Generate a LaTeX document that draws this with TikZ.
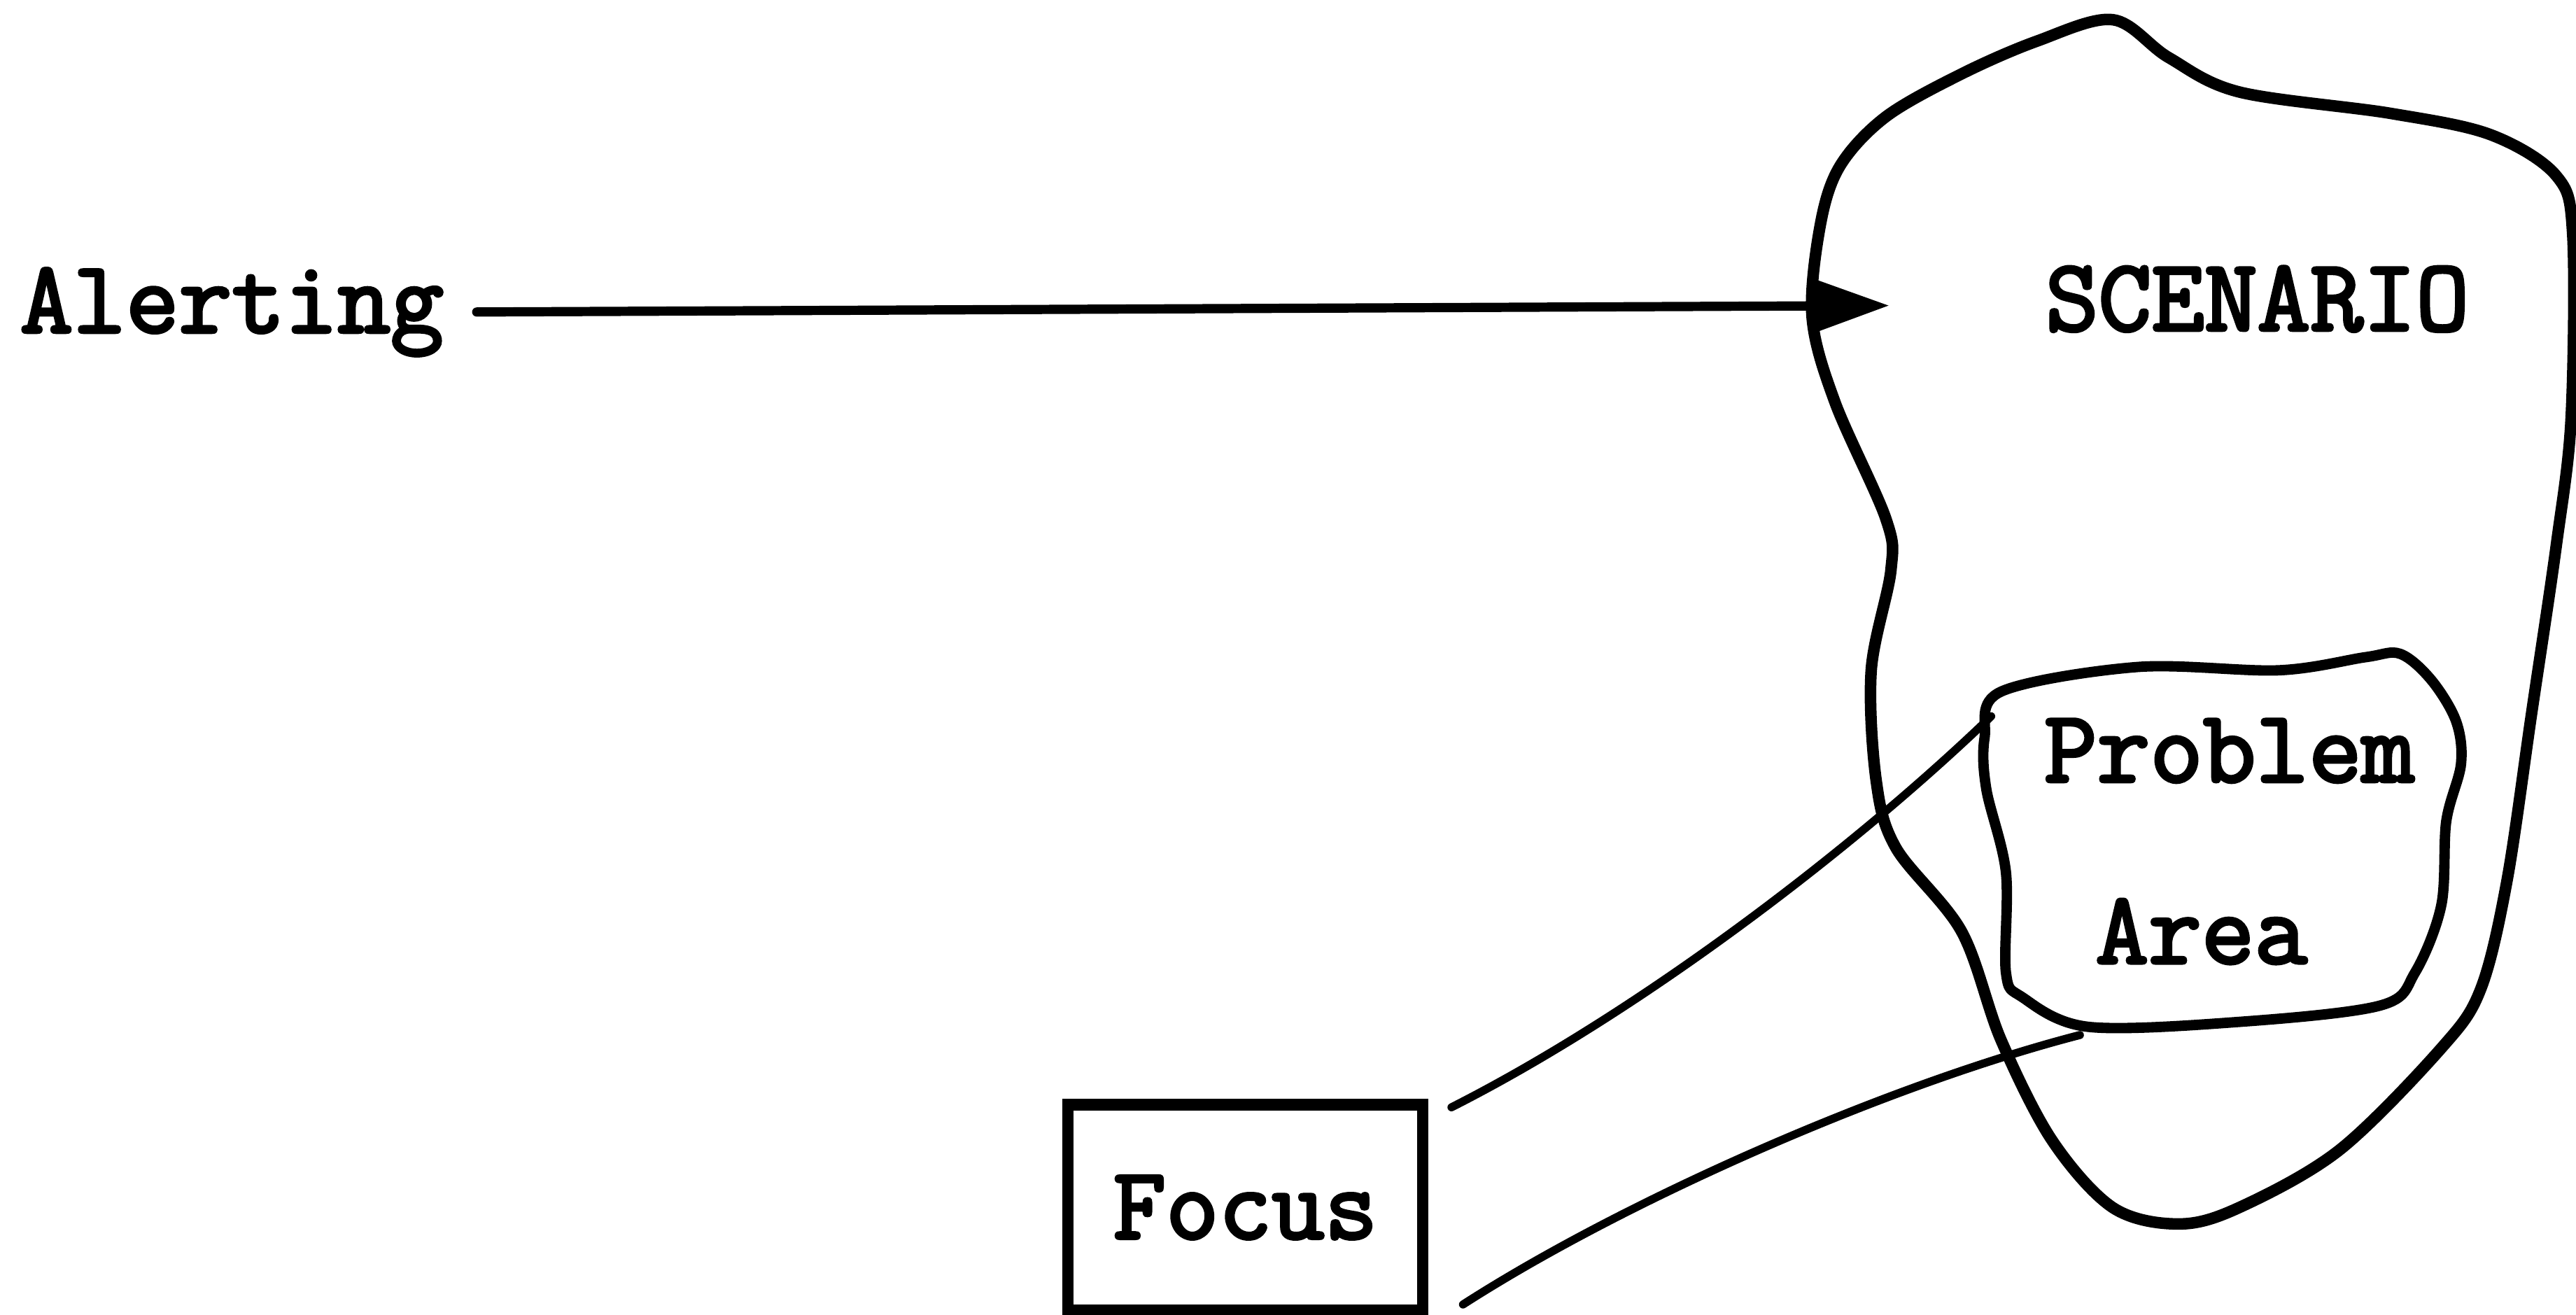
\documentclass[tikz,border=0pt]{standalone}
\usepackage{fontspec}
\newfontfamily\heavymono{Latin Modern Mono}[FakeBold=3]
\usetikzlibrary{arrows.meta}

\tikzset{
  words/.style={font=\fontsize{17.8}{20}\selectfont\heavymono, inner sep=1pt},
  blob/.style={line width=2pt, line join=round},
  link/.style={line width=1.4pt, line cap=round},
}

\begin{document}
\begin{tikzpicture}[x=0.1mm, y=-0.1mm]
\useasboundingbox (0,0) rectangle (1568,800);

% scenario outline
\draw[blob] plot[smooth cycle, tension=0.55] coordinates {
  (1286,12) (1320,35) (1363,56) (1455,69) (1516,82) (1556,107) (1566,143)
  (1565,255) (1556,332) (1541,434) (1526,536) (1510,602) (1486,638)
  (1424,700) (1363,735) (1326,745) (1286,735) (1249,694) (1218,633)
  (1194,567) (1154,516) (1142,475) (1139,408) (1151,347) (1148,316)
  (1117,245) (1103,193) (1108,137) (1120,101) (1148,71) (1194,45) (1240,25)};

% problem area outline
\draw[blob, line width=1.8pt] plot[smooth cycle, tension=0.55] coordinates {
  (1218,421) (1301,406) (1387,408) (1440,400) (1461,398) (1480,414)
  (1495,439) (1498,465) (1489,500) (1486,551) (1470,592) (1449,612)
  (1363,622) (1271,625) (1231,607) (1221,592) (1221,531) (1209,480)
  (1208,449)};

\node[words] (scenario) at (1374,182) {SCENARIO};
\node[words] (problem) at (1357,457) {Problem};
\node[words] (area) at (1340,567) {Area};

\node[words, anchor=west] (alerting) at (8,190) {Alerting};
\node[words, draw, line width=2pt, minimum width=21.6mm, minimum height=12.5mm] (focus) at (758,735) {Focus};

\coordinate (tip) at (1150,186);
\coordinate (pa) at (1212,436);
\coordinate (pb) at (1266,630);

\draw[link, line width=1.6pt, -{Triangle[length=4.4mm, width=3mm]}, shorten <=1.6mm] (alerting.east) -- (tip);

\draw[link] ([xshift=1.4mm, yshift=-0.5mm]focus.north east) .. controls (1000,615) and (1130,515) .. (pa);
\draw[link] ([xshift=2.1mm, yshift=0.7mm]focus.south east) .. controls (990,730) and (1150,660) .. (pb);
\end{tikzpicture}
\end{document}
